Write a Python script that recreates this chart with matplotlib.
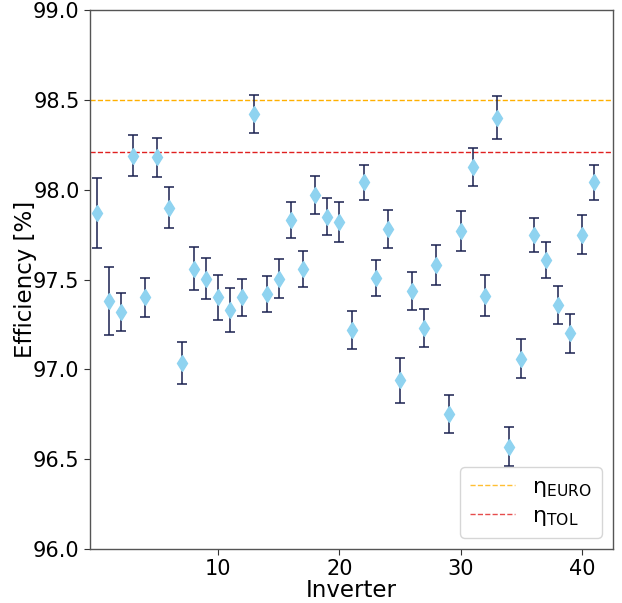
import matplotlib
matplotlib.use("Agg")
import matplotlib.pyplot as plt
import numpy as np

plt.rcParams['mathtext.default'] = 'regular'

inverter = list(range(42))
efficiency = [97.87, 97.38, 97.32, 98.19, 97.40, 98.18, 97.90, 97.035, 97.56, 97.505,
              97.40, 97.33, 97.40, 98.42, 97.42, 97.505, 97.83, 97.56, 97.97, 97.85,
              97.82, 97.22, 98.04, 97.51, 97.78, 96.94, 97.435, 97.23, 97.58, 96.75,
              97.77, 98.125, 97.41, 98.40, 96.57, 97.06, 97.75, 97.61, 97.36, 97.20,
              97.75, 98.04]
error = [0.195, 0.19, 0.105, 0.115, 0.11, 0.11, 0.115, 0.115, 0.12, 0.115,
         0.125, 0.12, 0.105, 0.105, 0.10, 0.11, 0.10, 0.10, 0.105, 0.105,
         0.11, 0.105, 0.10, 0.10, 0.105, 0.125, 0.105, 0.105, 0.11, 0.105,
         0.11, 0.105, 0.115, 0.12, 0.11, 0.11, 0.095, 0.10, 0.105, 0.11,
         0.11, 0.10]
eta_euro = 98.5
eta_tol = 98.21
yticks = [96.0, 96.5, 97.0, 97.5, 98.0, 98.5, 99.0]
xticks = [10, 20, 30, 40]

fig = plt.figure(figsize=(6.22, 6.03), dpi=100)
ax = fig.add_axes([90/622, 1-549/603, (613-90)/622, (549-10)/603])

ax.errorbar(inverter, efficiency, yerr=error, fmt='none', ecolor='#1b2250',
            elinewidth=1.3, capsize=3.5, capthick=1.3, alpha=0.85, zorder=2)
ax.plot(inverter, efficiency, linestyle='none', marker='d', markersize=8,
        color='#8fd3f0', zorder=3)
ax.axhline(eta_euro, color='#ffb000', linestyle='--', linewidth=1.0,
           label=r'$\eta_{EURO}$', zorder=1)
ax.axhline(eta_tol, color='#e02020', linestyle='--', linewidth=1.0,
           label=r'$\eta_{TOL}$', zorder=1)

ax.set_ylim(96.0, 99.0)
ax.set_xlim(-0.55, 42.55)
ax.set_yticks(yticks)
ax.set_yticklabels([f"{v:.1f}" for v in yticks])
ax.set_xticks(xticks)
ax.tick_params(labelsize=15, color='#333333', length=4)
for s in ax.spines.values():
    s.set_color('#555555')
    s.set_linewidth(1.0)

ax.set_xlabel('Inverter', fontsize=16.5, labelpad=0)
ax.set_ylabel('Efficiency [%]', fontsize=16.5, labelpad=-3)

leg = ax.legend(loc='lower right', fontsize=16, handlelength=2.0,
                borderpad=0.45, labelspacing=0.3, handletextpad=0.8)
for lh in leg.get_lines():
    lh.set_alpha(0.8)

fig.savefig('out.png', dpi=100)
